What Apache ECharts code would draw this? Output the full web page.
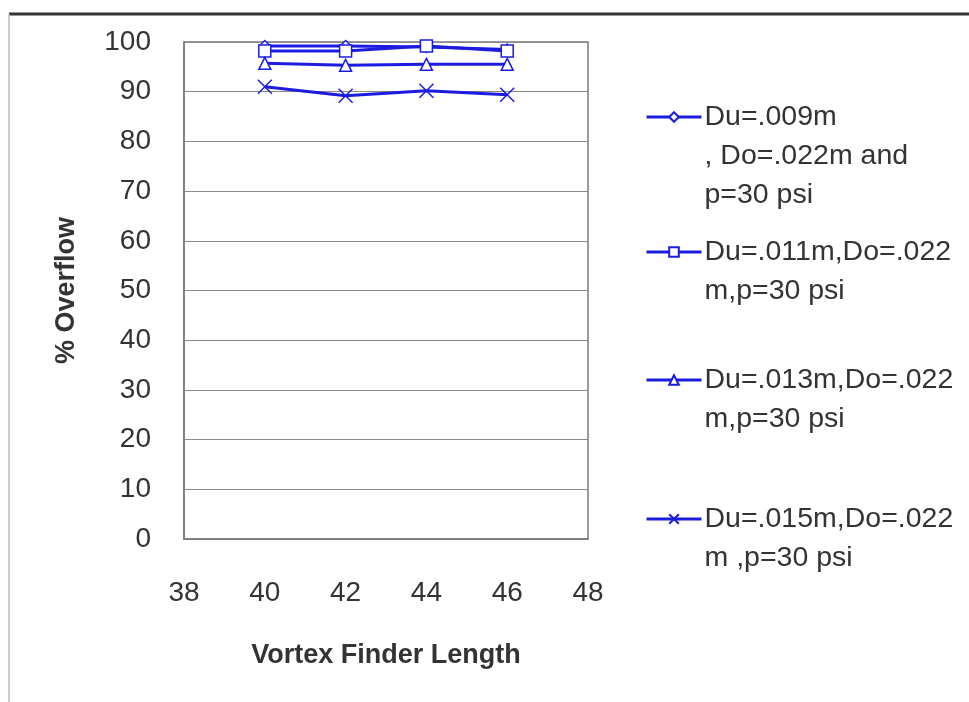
<!DOCTYPE html>
<html lang="en">
<head>
    <meta charset="UTF-8">
    <title>Overflow vs Vortex Finder Length</title>
    <style>
        html, body { margin: 0; padding: 0; background: #fff; }
        #chart { width: 969px; height: 702px; }
    </style>
</head>
<body>
    <div id="chart"></div>
    <script src="https://cdn.jsdelivr.net/npm/echarts@6/dist/echarts.min.js"></script>
    <script>
        // data
        var lengths = [40, 42, 44, 46];
        var du009 = [99.2, 99.2, 99.0, 98.5];
        var du011 = [98.2, 98.2, 99.2, 98.2];
        var du013 = [95.7, 95.3, 95.5, 95.5];
        var du015 = [91.0, 89.2, 90.2, 89.4];
        var names = [
            'Du=.009m\n, Do=.022m and\np=30 psi',
            'Du=.011m,Do=.022\nm,p=30 psi',
            'Du=.013m,Do=.022\nm,p=30 psi',
            'Du=.015m,Do=.022\nm ,p=30 psi'
        ];
        var xTicks = [38, 40, 42, 44, 46, 48];

        var blue = '#1c1ce0';
        var font = 'Liberation Sans';
        var cross = 'path://M0,0L10,10M10,0L0,10';
        var chart = echarts.init(document.getElementById('chart'));

        function pairs(vals) {
            return lengths.map(function (x, i) { return [x, vals[i]]; });
        }

        function makeSeries(name, vals, symbol, size) {
            return {
                name: name,
                type: 'line',
                data: pairs(vals),
                symbol: symbol,
                symbolSize: size,
                showSymbol: true,
                lineStyle: { color: blue, width: 3 },
                itemStyle: { color: symbol === cross ? 'none' : '#fff', borderColor: blue, borderWidth: 1.5 },
                emphasis: { disabled: true },
                z: 3
            };
        }

        // legend: one block per entry, icon lined up with the first text line
        var legendTops = [117, 252, 380, 519];
        var lineH = 39;
        var legends = names.map(function (n, i) {
            var extra = n.split('\n').length - 1;
            return {
                data: [n],
                left: 645,
                padding: 0,
                top: legendTops[i] - lineH / 2 - extra * lineH,
                itemWidth: 55,
                itemHeight: 12,
                selectedMode: false,
                lineStyle: { width: 3 },
                formatter: function (name) {
                    var pad = '';
                    for (var k = 0; k < extra; k++) pad += '\n';
                    return pad + name;
                },
                textStyle: { fontFamily: font, fontSize: 28.5, color: '#333', lineHeight: lineH, padding: [0, 0, 0, -2] }
            };
        });

        var option = {
            animation: false,
            backgroundColor: '#fff',
            grid: {
                left: 184, right: 381, top: 42, bottom: 163,
                show: true, borderColor: '#7a7a7a', borderWidth: 1.5
            },
            legend: legends,
            xAxis: {
                type: 'value',
                min: xTicks[0],
                max: xTicks[xTicks.length - 1],
                interval: 2,
                name: 'Vortex Finder Length',
                nameLocation: 'middle',
                nameGap: 103,
                nameTextStyle: { fontFamily: font, fontSize: 27, fontWeight: 'bold', color: '#333' },
                axisLine: { show: true, lineStyle: { color: '#7a7a7a', width: 1.5 } },
                axisTick: { show: false },
                splitLine: { show: false },
                axisLabel: { margin: 40, fontFamily: font, fontSize: 28, color: '#333' }
            },
            yAxis: {
                type: 'value',
                min: 0,
                max: 100,
                interval: 10,
                name: '% Overflow',
                nameLocation: 'middle',
                nameRotate: 90,
                nameGap: 104,
                nameTextStyle: { fontFamily: font, fontSize: 27, fontWeight: 'bold', color: '#333' },
                axisLine: { show: true, lineStyle: { color: '#7a7a7a', width: 1.5 } },
                axisTick: { show: false },
                splitLine: { show: true, lineStyle: { color: '#8a8a8a', width: 1.2 } },
                axisLabel: { margin: 33, fontFamily: font, fontSize: 28, color: '#333' }
            },
            graphic: [
                { type: 'line', shape: { x1: 9, y1: 14, x2: 969, y2: 14 }, style: { stroke: '#333', lineWidth: 3 } },
                { type: 'line', shape: { x1: 9, y1: 14, x2: 9, y2: 702 }, style: { stroke: '#bbb', lineWidth: 1.5 } }
            ],
            series: [
                makeSeries(names[0], du009, 'diamond', 11),
                makeSeries(names[1], du011, 'rect', 12),
                makeSeries(names[2], du013, 'triangle', 12),
                makeSeries(names[3], du015, cross, 14)
            ]
        };
        chart.setOption(option);
    </script>
</body>
</html>
